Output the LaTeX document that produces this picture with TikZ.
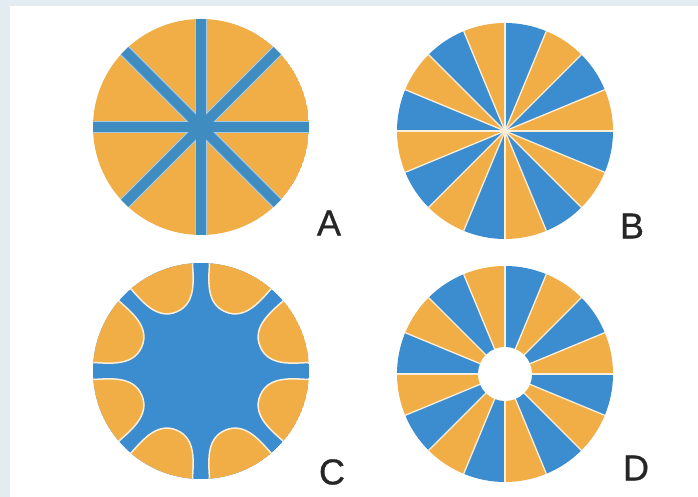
\documentclass[tikz,border=0pt]{standalone}
\usepackage{fontspec}
\setmainfont{Liberation Sans}
\newfontfamily\labfont{Liberation Sans}[FakeBold=0.8]
\begin{document}
\begin{tikzpicture}[x=1pt,y=1pt,
  lab/.style={inner sep=0pt, font=\labfont\fontsize{36}{36}\selectfont, text=black!85},
  sep/.style={draw=white!80!og, line width=1.3pt},
  halo/.style={draw=white!55!sb, line width=12.5pt},
  spoke/.style={draw=sb, line width=10pt}]
\definecolor{og}{HTML}{F1AE47}
\definecolor{bl}{HTML}{3B8DCF}
\definecolor{sb}{HTML}{3E8CC0}
\definecolor{bgedge}{HTML}{E3EDF1}
\fill[bgedge] (0,0) rectangle (698,497);
\fill[white] (10,0) rectangle (698,491);
\useasboundingbox (0,0) rectangle (698,497);

% ---------- A ----------
\begin{scope}[shift={(201,370)}]
  \clip (0,0) circle (108);
  \fill[og] (0,0) circle (108);
  \foreach \a in {0,45,90,135} \draw[halo] (\a:112) -- (\a+180:112);
  \foreach \a in {0,45,90,135} \draw[spoke] (\a:112) -- (\a+180:112);
  \fill[sb] (0,0) circle (13);
\end{scope}

% ---------- B ----------
\begin{scope}[shift={(505,366)}]
  \foreach \i in {0,...,15}{
    \ifodd\i \def\wc{bl}\else\def\wc{og}\fi
    \fill[\wc] (0,0) -- (22.5*\i:108) arc[start angle=22.5*\i, end angle=22.5*\i+22.5, radius=108] -- cycle;
  }
  \foreach \i in {0,...,15} \draw[sep] (0,0) -- (22.5*\i:108);
\end{scope}

% ---------- C ----------
\begin{scope}[shift={(201,126)}]
  \clip (0,0) circle (108);
  \fill[bl] (0,0) circle (108);
  \foreach \k in {0,...,7}{
    \begin{scope}[rotate=22.5+45*\k]
      \filldraw[fill=og, draw=white!80!og, line width=1.5pt]
        (113,36.5) -- (104.6,34.0) .. controls (88,28) and (64,22) .. (64,0)
        .. controls (64,-22) and (88,-28) .. (104.6,-34.0) -- (113,-36.5) -- cycle;
    \end{scope}
  }
\end{scope}

% ---------- D ----------
\begin{scope}[shift={(505,123)}]
  \foreach \i in {0,...,15}{
    \ifodd\i \def\wc{bl}\else\def\wc{og}\fi
    \fill[\wc] (0,0) -- (22.5*\i:108) arc[start angle=22.5*\i, end angle=22.5*\i+22.5, radius=108] -- cycle;
  }
  \foreach \i in {0,...,15} \draw[sep] (0,0) -- (22.5*\i:108);
  \fill[white] (0,0) circle (27);
\end{scope}

% ---------- labels ----------
\node[lab] (labA) at (329,274) {A};
\node[lab] (labB) at (632,271) {B};
\node[lab] (labC) at (332,25) {C};
\node[lab] (labD) at (636,29) {D};
\end{tikzpicture}
\end{document}
